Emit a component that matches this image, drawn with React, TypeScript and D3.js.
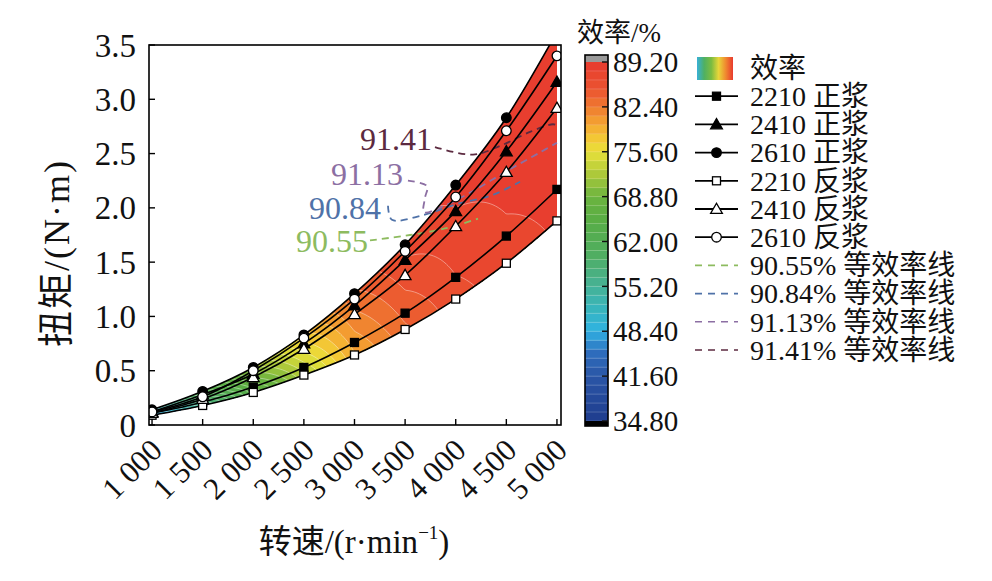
import React, { useMemo } from 'react';
import * as d3 from 'd3';

// ---------------- data ----------------
const speeds = [1000, 1500, 2000, 2500, 3000, 3500, 4000, 4500, 5000];
const xTickLabels = ['1 000', '1 500', '2 000', '2 500', '3 000', '3 500', '4 000', '4 500', '5 000'];
const yTicks = [0, 0.5, 1.0, 1.5, 2.0, 2.5, 3.0, 3.5];
const yTickLabels = ['0', '0.5', '1.0', '1.5', '2.0', '2.5', '3.0', '3.5'];

const fwd2210 = [0.11, 0.21, 0.35, 0.53, 0.76, 1.03, 1.36, 1.74, 2.17];
const fwd2410 = [0.12, 0.28, 0.47, 0.75, 1.10, 1.52, 1.97, 2.52, 3.16];
const fwd2610 = [0.14, 0.31, 0.53, 0.83, 1.21, 1.66, 2.21, 2.83, 3.62];
const rev2210 = [0.09, 0.18, 0.30, 0.46, 0.645, 0.88, 1.16, 1.49, 1.88];
const rev2410 = [0.11, 0.24, 0.44, 0.70, 1.02, 1.38, 1.83, 2.33, 2.92];
const rev2610 = [0.12, 0.26, 0.50, 0.80, 1.16, 1.60, 2.10, 2.71, 3.40];

const seriesNames = ['2210 正浆', '2410 正浆', '2610 正浆', '2210 反浆', '2410 反浆', '2610 反浆'];
const seriesShapes = ['square', 'triangle', 'circle', 'square', 'triangle', 'circle'];
const seriesFilled = [true, true, true, false, false, false];
const seriesValues = [fwd2210, fwd2410, fwd2610, rev2210, rev2410, rev2610];

// efficiency (%) along the lower (2210 反浆) and upper (2610 正浆) edges of the map
const effLowerEdge = [46, 56, 65, 72.5, 79.5, 83.5, 86, 87.3, 88];
const effUpperEdge = [52, 63, 71.5, 78, 83.5, 87, 88.3, 88.9, 89.2];

const colorbarTicks = [34.8, 41.6, 48.4, 55.2, 62.0, 68.8, 75.6, 82.4, 89.2];
const colorbarTickLabels = ['34.80', '41.60', '48.40', '55.20', '62.00', '68.80', '75.60', '82.40', '89.20'];
const colorStopValues = [34.8, 41.6, 45, 47, 48.4, 52, 55.2, 60, 65, 68.8, 72, 75.6, 78, 80.5, 82.4, 85, 89.2];
const colorStopColors = ['#1f3d8e', '#2a55a6', '#2e6cbc', '#2f92d2', '#2fb2e2', '#38b5bb', '#45b296', '#50ae62', '#58ad45', '#6cb43f', '#a9c83a', '#e9e13a', '#f5c234', '#f39a31', '#ef7a30', '#eb5430', '#e83a2f'];

const isoLevels = ['90.55', '90.84', '91.13', '91.41'];
const isoColors = ['#8dbb5f', '#4f72a8', '#8c6fa3', '#5c2a40'];
const iso9055 = [[3153, 1.70], [3548, 1.75], [3894, 1.81], [4220, 1.90]];
const iso9084 = [[3331, 2.02], [3370, 1.89], [3667, 1.93], [3993, 2.03], [4368, 2.12], [4635, 2.24]];
const iso9113 = [[3528, 2.25], [3716, 2.20], [3696, 2.09], [3687, 1.96], [3864, 2.01], [4161, 2.15], [4506, 2.34], [4832, 2.51], [5000, 2.60]];
const iso9141 = [[3795, 2.56], [4171, 2.49], [4437, 2.57], [4734, 2.70], [4961, 2.77], [5000, 2.76]];
const isoPaths = [iso9055, iso9084, iso9113, iso9141];
const isoLabelPos = [[3133, 1.593], [3262, 1.897], [3479, 2.21], [3766, 2.533]];

const legendSwatchColors = ['#38b0d8', '#4fb062', '#7cbc40', '#e8d63a', '#f0882f', '#e83a2f'];

// ---------------- layout ----------------
const W = 992, H = 581;
const PL = 149, PR = 561, PT = 45, PB = 425;
const FONT = '"Liberation Serif", "DejaVu Serif", "Noto Sans CJK SC", serif';

function Marker({ shape, filled, x, y, size = 1 }: any) {
  const fill = filled ? '#000' : '#fff';
  if (shape === 'square') {
    const s = 8 * size;
    return <rect x={x - s / 2} y={y - s / 2} width={s} height={s} fill={fill} stroke="#000" strokeWidth={1.3} />;
  }
  if (shape === 'triangle') {
    const p = d3.symbol(d3.symbolTriangle, 60 * size * size)();
    return <path d={p || ''} transform={`translate(${x},${y + 1})`} fill={fill} stroke="#000" strokeWidth={1.3} />;
  }
  return <circle cx={x} cy={y} r={4.8 * size} fill={fill} stroke="#000" strokeWidth={1.3} />;
}

export default function App() {
  const x = d3.scaleLinear().domain([970, 5040]).range([PL, PR]);
  const y = d3.scaleLinear().domain([0, 3.5]).range([PB, PT]);
  const color = d3.scaleLinear<string>().domain(colorStopValues).range(colorStopColors).clamp(true);

  const lowerAt = d3.scaleLinear().domain(speeds).range(rev2210).clamp(true);
  const upperAt = d3.scaleLinear().domain(speeds).range(fwd2610).clamp(true);
  const effLoAt = d3.scaleLinear().domain(speeds).range(effLowerEdge).clamp(true);
  const effHiAt = d3.scaleLinear().domain(speeds).range(effUpperEdge).clamp(true);

  const bandStep = 1.36;
  const thresholds = d3.range(0, 40).map((i) => 34.8 + i * bandStep);

  const contours = useMemo(() => {
    const cell = 2;
    const nx = Math.ceil((PR - PL) / cell) + 1;
    const ny = Math.ceil((PB - PT) / cell) + 1;
    const values = new Array(nx * ny);
    for (let j = 0; j < ny; j++) {
      for (let i = 0; i < nx; i++) {
        const s = x.invert(PL + (i + 0.5) * cell);
        const q = y.invert(PT + (j + 0.5) * cell);
        const lo = lowerAt(s), hi = upperAt(s);
        let t = (q - lo) / (hi - lo);
        t = Math.max(0, Math.min(1, t));
        values[j * nx + i] = effLoAt(s) + t * (effHiAt(s) - effLoAt(s));
      }
    }
    const cs = d3.contours().size([nx, ny]).thresholds(thresholds)(values);
    const path = d3.geoPath(d3.geoIdentity().scale(cell).translate([PL, PT]) as any);
    return cs.map((c) => ({ d: path(c as any) || '', v: c.value }));
  }, []);

  const line = d3.line<number>().x((_, i) => x(speeds[i])).y((v) => y(v)).curve(d3.curveMonotoneX);
  const area = d3.area<number>()
    .x((_, i) => x(speeds[i]))
    .y0((_, i) => y(rev2210[i]))
    .y1((v) => y(v))
    .curve(d3.curveMonotoneX);
  const isoLine = d3.line<number[]>().x((p) => x(p[0])).y((p) => y(p[1])).curve(d3.curveCatmullRom);

  // colorbar
  const cbX = 585, cbW = 23;
  const cbY = d3.scaleLinear().domain([34.8, 89.2]).range([421, 62]);
  const cbBands = d3.range(0, 40).map((i) => 34.8 + i * bandStep);

  // legend
  const lgX0 = 695, lgX1 = 738, lgTextX = 750;
  const rowY = (i: number) => 68 + i * 28.2;

  return (
    <svg width={W} height={H} style={{ position: 'absolute', left: 0, top: 0, background: '#fff', fontFamily: FONT }}>
      <defs>
        <clipPath id="plotClip">
          <rect x={PL} y={PT} width={PR - PL} height={PB - PT} />
        </clipPath>
        <clipPath id="mapClip">
          <path d={area(fwd2610) || ''} />
        </clipPath>
        <linearGradient id="swatchGrad" x1="0" x2="1" y1="0" y2="0">
          {legendSwatchColors.map((c, i) => (
            <stop key={i} offset={i / (legendSwatchColors.length - 1)} stopColor={c} />
          ))}
        </linearGradient>
      </defs>
      <rect x={0} y={0} width={W} height={H} fill="#fff" />

      {/* efficiency map */}
      <g clipPath="url(#plotClip)">
        <g clipPath="url(#mapClip)">
          {contours.map((c, i) => (
            <path key={i} d={c.d} fill={color(c.v + bandStep / 2)} stroke="#fff" strokeOpacity={0.5} strokeWidth={0.8} />
          ))}
        </g>
        {/* iso-efficiency lines */}
        {isoPaths.map((p, i) => (
          <path key={i} d={isoLine(p) || ''} fill="none" stroke={isoColors[i]} strokeWidth={1.8} strokeDasharray="7,5" />
        ))}
        {/* series lines */}
        {seriesValues.map((vals, i) => (
          <path key={i} d={line(vals) || ''} fill="none" stroke="#000" strokeWidth={1.6} />
        ))}
        {seriesValues.map((vals, i) =>
          vals.map((v, k) => (
            <Marker key={`${i}-${k}`} shape={seriesShapes[i]} filled={seriesFilled[i]} x={x(speeds[k])} y={y(v)} />
          ))
        )}
      </g>

      {/* iso labels */}
      {isoLevels.map((lab, i) => (
        <text key={i} x={x(isoLabelPos[i][0])} y={y(isoLabelPos[i][1])} textAnchor="end" fontSize={32} fill={isoColors[i]}>
          {lab}
        </text>
      ))}

      {/* plot frame */}
      <rect x={PL} y={PT} width={PR - PL} height={PB - PT} fill="none" stroke="#000" strokeWidth={1.6} />
      {speeds.map((s, i) => (
        <line key={i} x1={x(s)} x2={x(s)} y1={PB} y2={PB - 6} stroke="#000" strokeWidth={1.4} />
      ))}
      {yTicks.map((t, i) => (
        <line key={i} x1={PL} x2={PL + 6} y1={y(t)} y2={y(t)} stroke="#000" strokeWidth={1.4} />
      ))}

      {/* y tick labels */}
      {yTicks.map((t, i) => (
        <text key={i} x={136} y={y(t)} dy="0.35em" textAnchor="end" fontSize={33} fill="#111">
          {yTickLabels[i]}
        </text>
      ))}
      {/* x tick labels */}
      {speeds.map((s, i) => (
        <text key={i} transform={`translate(${x(s) + 12},${452}) rotate(-45)`} textAnchor="end" fontSize={31} fill="#111">
          {xTickLabels[i]}
        </text>
      ))}

      {/* axis titles */}
      <text x={354} y={553} textAnchor="middle" fontSize={33} fill="#111">
        转速/(r·min<tspan fontSize={19} dy={-14}>−1</tspan><tspan dy={14}>)</tspan>
      </text>
      <text transform={`translate(69,253) rotate(-90)`} textAnchor="middle" fontSize={36} letterSpacing={2} fill="#111">
        扭矩/(N·m)
      </text>

      {/* colorbar */}
      <text x={577} y={42} fontSize={27} fill="#111">效率/%</text>
      <rect x={cbX} y={55} width={cbW} height={cbY(89.2) - 55} fill="#9a9a9a" />
      {cbBands.map((v, i) => (
        <rect key={i} x={cbX} y={cbY(v + bandStep)} width={cbW} height={cbY(v) - cbY(v + bandStep) + 0.3}
          fill={color(v + bandStep / 2)} />
      ))}
      {cbBands.map((v, i) => (
        <line key={i} x1={cbX} x2={cbX + cbW} y1={cbY(v)} y2={cbY(v)} stroke="#fff" strokeOpacity={0.3} strokeWidth={0.6} />
      ))}
      <rect x={cbX} y={cbY(34.8)} width={cbW} height={426 - cbY(34.8)} fill="#000" />
      <rect x={cbX} y={55} width={cbW} height={426 - 55} fill="none" stroke="#000" strokeWidth={1.6} />
      {colorbarTicks.map((t, i) => (
        <g key={i}>
          <line x1={cbX + cbW - 6} x2={cbX + cbW} y1={cbY(t)} y2={cbY(t)} stroke="#111" strokeWidth={1.4} />
          <text x={613} y={cbY(t)} dy="0.35em" fontSize={29} fill="#111">{colorbarTickLabels[i]}</text>
        </g>
      ))}

      {/* legend */}
      <rect x={697} y={57} width={36} height={23} fill="url(#swatchGrad)" />
      <text x={lgTextX} y={rowY(0)} dy="0.35em" fontSize={28} fill="#111">效率</text>
      {seriesNames.map((name, i) => (
        <g key={i}>
          <line x1={lgX0} x2={lgX1} y1={rowY(i + 1)} y2={rowY(i + 1)} stroke="#000" strokeWidth={1.8} />
          <Marker shape={seriesShapes[i]} filled={seriesFilled[i]} x={(lgX0 + lgX1) / 2} y={rowY(i + 1)} />
          <text x={lgTextX} y={rowY(i + 1)} dy="0.35em" fontSize={28} fill="#111">{name}</text>
        </g>
      ))}
      {isoLevels.map((lab, i) => (
        <g key={i}>
          <line x1={lgX0} x2={lgX1} y1={rowY(i + 7)} y2={rowY(i + 7)} stroke={isoColors[i]} strokeWidth={1.6} strokeDasharray="7,6" />
          <text x={lgTextX} y={rowY(i + 7)} dy="0.35em" fontSize={28} fill="#111">{`${lab}% 等效率线`}</text>
        </g>
      ))}
    </svg>
  );
}
